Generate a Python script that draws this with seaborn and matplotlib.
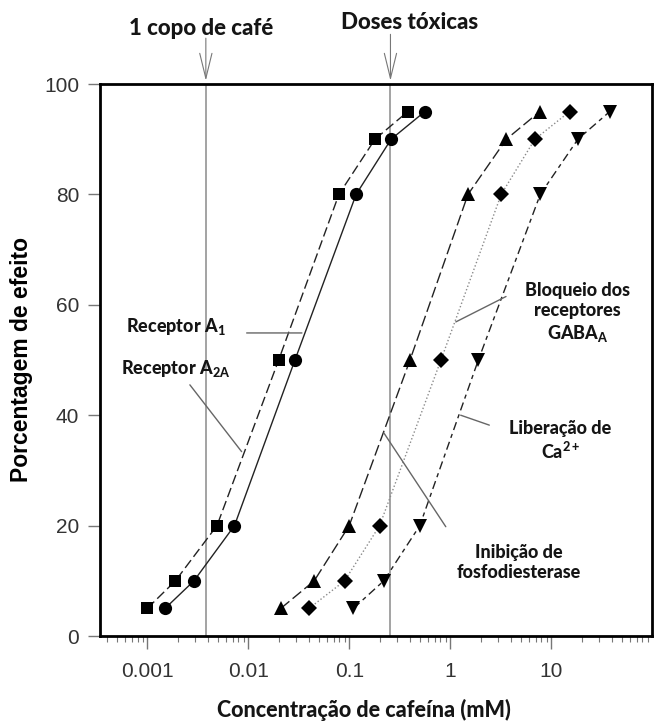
import matplotlib
matplotlib.use('Agg')
import matplotlib.pyplot as plt
import seaborn as sns
import pandas as pd

# ---------------- data ----------------
efeito = [5, 10, 20, 50, 80, 90, 95]
conc_a2a = [0.0010, 0.0019, 0.0049, 0.020, 0.079, 0.18, 0.38]     # squares
conc_a1 = [0.0015, 0.0029, 0.0073, 0.029, 0.117, 0.26, 0.56]      # circles
conc_pde = [0.021, 0.045, 0.10, 0.40, 1.5, 3.6, 7.7]              # triangles up
conc_gaba = [0.040, 0.090, 0.20, 0.81, 3.2, 6.9, 15.2]            # diamonds
conc_ca = [0.11, 0.22, 0.50, 1.9, 7.8, 18.4, 38.0]                # triangles down
copo_cafe = 0.0038
doses_toxicas = 0.256
xticks = [0.001, 0.01, 0.1, 1, 10]
xtick_labels = ['0.001', '0.01', '0.1', '1', '10']
yticks = [0, 20, 40, 60, 80, 100]

# ---------------- style ----------------
sns.set_theme(style='ticks')
plt.rcParams['font.family'] = ['Liberation Sans', 'DejaVu Sans']
plt.rcParams['mathtext.fontset'] = 'custom'
plt.rcParams['mathtext.rm'] = 'Lato:black'
plt.rcParams['mathtext.it'] = 'Lato:black'
plt.rcParams['mathtext.bf'] = 'Lato:black'

W, H = 654, 725
fig = plt.figure(figsize=(W / 100, H / 100), dpi=100)
ax = fig.add_axes([100 / W, 1 - 636 / H, 551.7 / W, 552 / H])

TXT = '#151515'
ANN = dict(family=['Lato', 'DejaVu Sans'], fontweight='black', color=TXT)

series = [
    (conc_a2a, 's', 8.5, (0, (7, 3)), '#222222'),
    (conc_a1, 'o', 9.5, '-', '#222222'),
    (conc_pde, '^', 10, (0, (8, 3)), '#222222'),
    (conc_gaba, 'D', 8, (0, (1, 1.6)), '#8a8a8a'),
    (conc_ca, 'v', 10, (0, (6, 3, 3, 3)), '#222222'),
]
for conc, mk, ms, ls, lc in series:
    df = pd.DataFrame({'conc': conc, 'efeito': efeito})
    sns.lineplot(data=df, x='conc', y='efeito', ax=ax, color=lc, linestyle=ls,
                 linewidth=1.0, marker=mk, markersize=ms,
                 markerfacecolor='black', markeredgecolor='black',
                 markeredgewidth=0, estimator=None, sort=False, zorder=3)

ax.set_xscale('log')
ax.set_xlim(3.4e-4, 99)
ax.set_ylim(0, 100)
ax.set_xticks(xticks, labels=xtick_labels)
ax.set_yticks(yticks)

for s in ax.spines.values():
    s.set_visible(True)
    s.set_linewidth(2.0)
    s.set_color('black')

ax.tick_params(axis='both', which='major', direction='out', length=9, width=1,
               color='#777777', labelsize=15, labelcolor='#333333')
ax.tick_params(axis='x', which='minor', direction='out', length=4, width=0.8,
               color='#777777')
ax.tick_params(axis='y', pad=6)
ax.tick_params(axis='x', pad=10)

# vertical reference lines
ax.axvline(copo_cafe, color='#8a8a8a', lw=1.1, zorder=1)
ax.axvline(doses_toxicas, color='#8a8a8a', lw=1.1, zorder=1)

# arrows above
for xv, y0 in [(copo_cafe, 108.3), (doses_toxicas, 109.0)]:
    ax.annotate('', xy=(xv, 100.6), xytext=(xv, y0),
                arrowprops=dict(arrowstyle='->,head_length=0.9,head_width=0.22',
                                color='#777777', lw=0.8, mutation_scale=20,
                                shrinkA=0, shrinkB=0),
                annotation_clip=False)

ax.text(0.00342, 110.0, '1 copo de café', ha='center', va='center',
        fontsize=16, clip_on=False, **ANN)
ax.text(0.40, 111.2, 'Doses tóxicas', ha='center', va='center',
        fontsize=16, clip_on=False, **ANN)

# labels
ax.set_xlabel('Concentração de cafeína (mM)', fontsize=15.5, va='center', **ANN)
ax.xaxis.set_label_coords((364 - 100) / 551.7, (636 - 710) / 552)
ax.set_ylabel('Porcentagem de efeito', fontsize=16.5, fontweight='bold',
              color='black', va='center')
ax.yaxis.set_label_coords((22 - 100) / 551.7, 0.5)

# annotations
def leader(p1, p2):
    ax.annotate('', xy=p2, xytext=p1,
                arrowprops=dict(arrowstyle='-', color='#666666', lw=1.0,
                                shrinkA=0, shrinkB=0))

ax.text(0.0019, 56.0, 'Receptor A$_\\mathrm{1}$', ha='center', va='center', fontsize=13, **ANN)
leader((0.00964, 54.9), (0.034, 54.9))
ax.text(0.0019, 48.5, 'Receptor A$_\\mathrm{2A}$', ha='center', va='center', fontsize=13, **ANN)
leader((0.00264, 45.5), (0.00859, 33.4))

ax.text(18.2, 58.5, 'Bloqueio dos\nreceptores\nGABA$_\\mathrm{A}$', ha='center', va='center',
        fontsize=13, linespacing=1.25, **ANN)
leader((3.57, 61.5), (1.137, 56.9))

ax.text(12.4, 35.4, 'Liberação de\nCa$^{\\mathrm{2+}}$', ha='center', va='center',
        fontsize=13, linespacing=1.2, **ANN)
leader((1.27, 40.0), (2.44, 38.2))

ax.text(4.73, 13.3, 'Inibição de\nfosfodiesterase', ha='center', va='center',
        fontsize=13, linespacing=1.2, **ANN)
leader((0.22, 36.8), (0.904, 19.8))

fig.savefig('out.png', dpi=100)
